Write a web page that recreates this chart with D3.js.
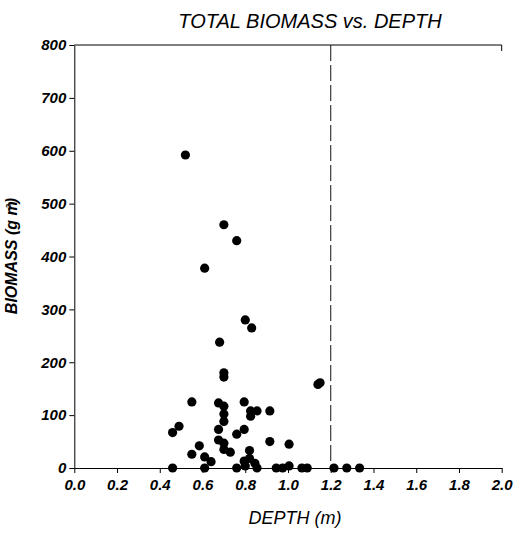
<!DOCTYPE html>
<html>
<head>
<meta charset="utf-8">
<script src="https://cdn.jsdelivr.net/npm/d3@7"></script>
<style>
  body { margin: 0; background: #fff; }
  svg { display: block; font-family: "Liberation Sans", Arial, sans-serif; }
</style>
</head>
<body>
<svg id="chart" width="516" height="534"></svg>
<script>
// depth (m) and total biomass (g m-2)
let depth = [0.52, 0.70, 0.76, 0.61, 0.80, 0.83, 0.68, 0.70, 0.70, 1.15, 1.14,
  0.46, 0.46, 0.49, 0.55, 0.55, 0.585, 0.61, 0.61, 0.64, 0.675, 0.70, 0.70, 0.70,
  0.675, 0.675, 0.70, 0.70, 0.73, 0.76, 0.76, 0.795, 0.825, 0.855, 0.825, 0.915,
  0.795, 0.915, 1.005, 0.82, 0.82, 0.795, 0.845, 0.80, 0.855, 0.945, 0.975, 1.005,
  1.065, 1.09, 1.215, 1.275, 1.335]
let biomass = [592, 460, 430, 378, 280, 265, 238, 180, 172, 161, 158,
  0, 67, 79, 125, 26, 42, 21, 0, 12, 123, 117, 102, 88,
  73, 53, 47, 35, 30, 64, 0, 125, 108, 108, 98, 108,
  73, 50, 45, 33, 18, 13, 9, 4, 0, 0, 0, 4,
  0, 0, 0, 0, 0]

let xTicks = [0, 0.2, 0.4, 0.6, 0.8, 1.0, 1.2, 1.4, 1.6, 1.8, 2.0]
let yTicks = [0, 100, 200, 300, 400, 500, 600, 700, 800]
let cutoffDepth = 1.2

let svg = d3.select('#chart')

let x = d3.scaleLinear().domain([0, 2]).range([74.3, 501.7])
let y = d3.scaleLinear().domain([0, 800]).range([468, 45])

// title
svg.append('text')
   .attr('x', 310).attr('y', 28)
   .attr('text-anchor', 'middle')
   .style('font-size', '20px')
   .style('font-style', 'italic')
   .text('TOTAL BIOMASS vs. DEPTH')

// top frame line with small tick at the right end
svg.append('line')
   .attr('x1', x(0)).attr('x2', x(2))
   .attr('y1', y(800)).attr('y2', y(800))
   .attr('stroke', '#000')
svg.append('line')
   .attr('x1', x(2)).attr('x2', x(2))
   .attr('y1', y(800)).attr('y2', y(800) + 6)
   .attr('stroke', '#000')

// dashed depth limit
svg.append('line')
   .attr('x1', x(cutoffDepth)).attr('x2', x(cutoffDepth))
   .attr('y1', y(800)).attr('y2', y(0))
   .attr('stroke', '#111')
   .attr('stroke-dasharray', '16,4')

// axes
let xAxis = svg.append('g')
   .attr('transform', 'translate(0,' + y(0) + ')')
   .call(d3.axisBottom(x).tickValues(xTicks).tickFormat(d3.format('.1f')).tickSize(5).tickSizeOuter(0).tickPadding(6))
let yAxis = svg.append('g')
   .attr('transform', 'translate(' + x(0) + ',0)')
   .call(d3.axisLeft(y).tickValues(yTicks).tickSize(5).tickSizeOuter(0).tickPadding(3))

svg.selectAll('.tick text')
   .attr('fill', '#000')
   .style('font-family', '"Liberation Sans", Arial, sans-serif')
   .style('font-size', '15px')
   .style('font-weight', 'bold')
   .style('font-style', 'italic')

svg.selectAll('.domain, .tick line').attr('stroke', '#000')

// points
svg.append('g')
   .selectAll('circle')
   .data(depth)
   .enter()
   .append('circle')
   .attr('cx', (d) => x(d))
   .attr('cy', (d, i) => y(biomass[i]))
   .attr('r', 4.6)
   .attr('fill', '#000')

// axis titles
svg.append('text')
   .attr('x', 295).attr('y', 524)
   .attr('text-anchor', 'middle')
   .style('font-size', '18px')
   .style('font-style', 'italic')
   .text('DEPTH (m)')

let ylab = svg.append('text')
   .attr('transform', 'translate(17,256) rotate(-90)')
   .attr('text-anchor', 'middle')
   .style('font-size', '16px')
   .style('font-weight', 'bold')
   .style('font-style', 'italic')
ylab.append('tspan').text('BIOMASS (g m')
ylab.append('tspan').attr('dy', -6).attr('dx', -10).style('font-size', '8px').text('-2')
ylab.append('tspan').attr('dy', 6).attr('dx', 1).text(')')
</script>
</body>
</html>
